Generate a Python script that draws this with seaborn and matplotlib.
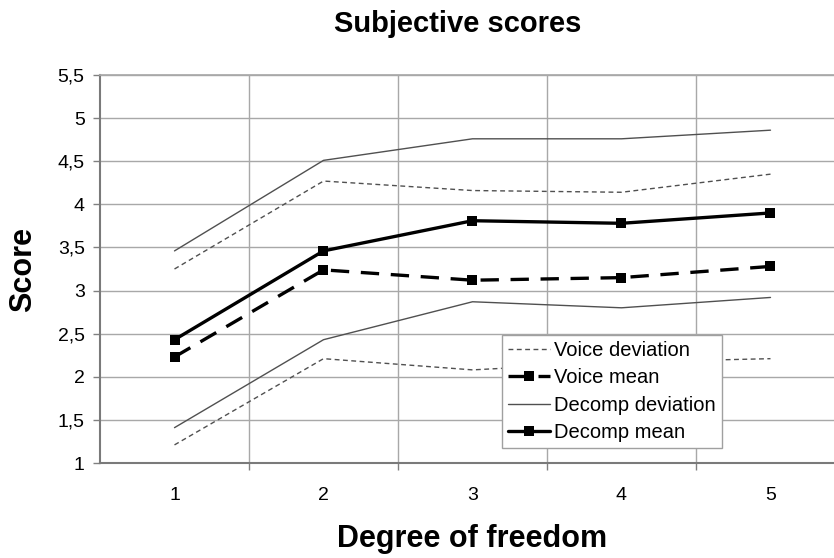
#!/usr/bin/env python3

"""Subjective scores vs degree of freedom, redrawn with seaborn."""

import matplotlib.pyplot as plt
import matplotlib.ticker as mticker
import pandas as pd
import seaborn as sns

sns.set_theme(style="white", rc={"text.color": "black", "axes.labelcolor": "black",
                                 "xtick.color": "black", "ytick.color": "black"})
plt.rcParams["font.family"] = ["Liberation Sans", "DejaVu Sans"]

dof = [1, 2, 3, 4, 5]
voice_dev_upper = [3.25, 4.27, 4.16, 4.14, 4.35]
voice_dev_lower = [1.21, 2.21, 2.08, 2.17, 2.21]
voice_mean = [2.23, 3.24, 3.12, 3.15, 3.28]
decomp_dev_upper = [3.46, 4.51, 4.76, 4.76, 4.86]
decomp_dev_lower = [1.41, 2.43, 2.87, 2.80, 2.92]
decomp_mean = [2.43, 3.46, 3.81, 3.78, 3.90]
y_ticks = [1, 1.5, 2, 2.5, 3, 3.5, 4, 4.5, 5, 5.5]


def main():
    fig = plt.figure(figsize=(8.34, 5.58), dpi=100)
    ax = fig.add_axes([100 / 834, 95 / 558, 745 / 834, 388 / 558])

    dev_style = dict(color="#505050", linewidth=1.0)
    mean_style = dict(color="black", linewidth=2.4, marker="s", markersize=7,
                      markeredgewidth=0)
    series = [
        (voice_dev_upper, "Voice deviation", dict(dev_style, dashes=(3.5, 2.5))),
        (voice_dev_lower, None, dict(dev_style, dashes=(3.5, 2.5))),
        (voice_mean, "Voice mean", dict(mean_style, dashes=(5.5, 3.5))),
        (decomp_dev_upper, "Decomp deviation", dev_style),
        (decomp_dev_lower, None, dev_style),
        (decomp_mean, "Decomp mean", mean_style),
    ]
    for values, label, style in series:
        df = pd.DataFrame({"dof": dof, "score": values})
        sns.lineplot(data=df, x="dof", y="score", ax=ax, label=label, **style)

    ax.set_xlim(0.5, 5.5)
    ax.set_ylim(1, 5.5)
    ax.set_xticks(dof)
    ax.set_xticks([1.5, 2.5, 3.5, 4.5], minor=True)
    ax.set_yticks(y_ticks)
    ax.yaxis.set_major_formatter(
        mticker.FuncFormatter(lambda v, _: f"{v:g}".replace(".", ","))
    )
    ax.tick_params(axis="x", which="major", length=0, pad=17, labelsize=14)
    ax.tick_params(axis="x", which="minor", bottom=True, length=5,
                   color="#808080", width=1)
    ax.tick_params(axis="y", left=True, length=5, color="#808080", width=1,
                   pad=6, labelsize=14)
    ax.grid(axis="y", which="major", color="#a8a8a8", linewidth=1)
    ax.grid(axis="x", which="minor", color="#a8a8a8", linewidth=1)
    ax.set_axisbelow(True)
    for side in ("left", "bottom"):
        ax.spines[side].set_color("#7a7a7a")
        ax.spines[side].set_linewidth(1.5)
    ax.spines["top"].set_color("#a8a8a8")
    ax.spines["right"].set_visible(False)

    ax.set_xlabel("Degree of freedom", fontsize=22, fontweight="bold", labelpad=15)
    ax.set_ylabel("Score", fontsize=22, fontweight="bold", labelpad=14)
    fig.text(458 / 834, 1 - 24 / 558, "Subjective scores", fontsize=21,
             fontweight="bold", ha="center", va="center")

    leg = ax.legend(loc="upper left", bbox_to_anchor=(502 / 834, 1 - 335 / 558),
                    bbox_transform=fig.transFigure, borderaxespad=0,
                    fontsize=14.5, frameon=True, fancybox=False, framealpha=1,
                    handlelength=2.1, handletextpad=0.2, labelspacing=0.42,
                    borderpad=0.3)
    leg.get_frame().set_edgecolor("#a0a0a0")
    leg.get_frame().set_linewidth(1)

    fig.savefig("out.png", dpi=100)
    plt.close(fig)


if __name__ == "__main__":
    main()
